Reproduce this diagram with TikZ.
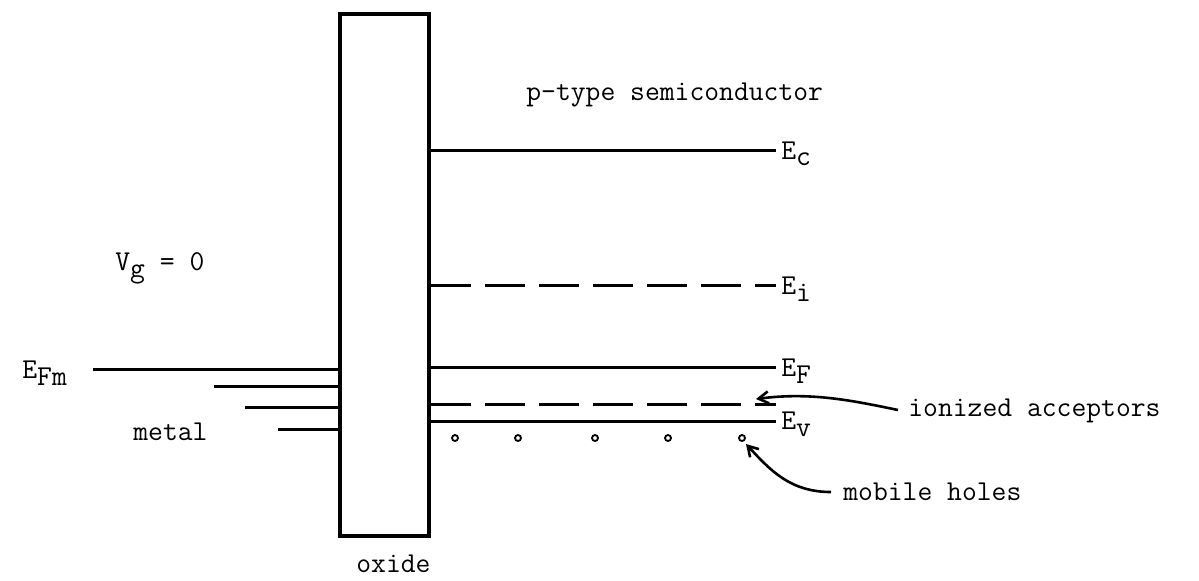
\documentclass[tikz,border=0pt]{standalone}
\usepackage{fontspec}
\usetikzlibrary{arrows.meta}
\begin{document}
\begin{tikzpicture}[x=0.5pt,y=-0.5pt,
  lvl/.style={line width=1.5pt},
  dlvl/.style={line width=1.5pt, dash pattern=on 20pt off 7pt},
  lbl/.style={anchor=west, inner sep=0pt, font=\ttfamily\fontsize{14.4}{16}\selectfont},
  hole/.style={line width=0.9pt},
  pointer/.style={line width=1.3pt, -{Straight Barb[length=5pt,width=6pt]}}]
\useasboundingbox (0,0) rectangle (1199,580);
% oxide box
\draw[line width=1.6pt] (340,14) rectangle (429,536);
% metal levels
\draw[lvl] (93,369) -- (341,369);
\draw[lvl] (214,386) -- (341,386);
\draw[lvl] (245,407) -- (341,407);
\draw[lvl] (278,429) -- (341,429);
% semiconductor levels
\draw[lvl] (429,150) -- (776,150);
\draw[dlvl] (431,285) -- (776,285);
\draw[lvl] (429,367) -- (776,367);
\draw[dlvl] (431,404) -- (776,404);
\draw[lvl] (429,421) -- (776,421);
% holes
\foreach \x in {455,518,595,668,742} \draw[hole] (\x,438) circle (3);
% labels
\node[lbl] (pt) at (526,95) {p-type semiconductor};
\node[lbl] (ec) at (781,154) {E\raisebox{-0.45ex}{c}};
\node[lbl] (ei) at (781,289) {E\raisebox{-0.55ex}{i}};
\node[lbl] (ef) at (781,371) {E\raisebox{-0.55ex}{F}};
\node[lbl] (ev) at (781,424) {E\raisebox{-0.55ex}{v}};
\node[lbl] (vg) at (115,268) {V\raisebox{-0.55ex}{g} = 0};
\node[lbl] (efm) at (22,373) {E\raisebox{-0.55ex}{Fm}};
\node[lbl] (metal) at (133,432) {metal};
\node[lbl] (oxide) at (356,564) {oxide};
\node[lbl] (ion) at (908,411) {ionized acceptors};
\node[lbl] (mob) at (843,492) {mobile holes};
% pointers
\coordinate (ionend) at (756,399);
\coordinate (holeend) at (746,444);
\draw[pointer] (ion.west) ++(-10,-1) .. controls (850,400) and (810,392) .. (ionend);
\draw[pointer] (mob.west) ++(-12,0) .. controls (790,492) and (770,470) .. (holeend);
\end{tikzpicture}
\end{document}
